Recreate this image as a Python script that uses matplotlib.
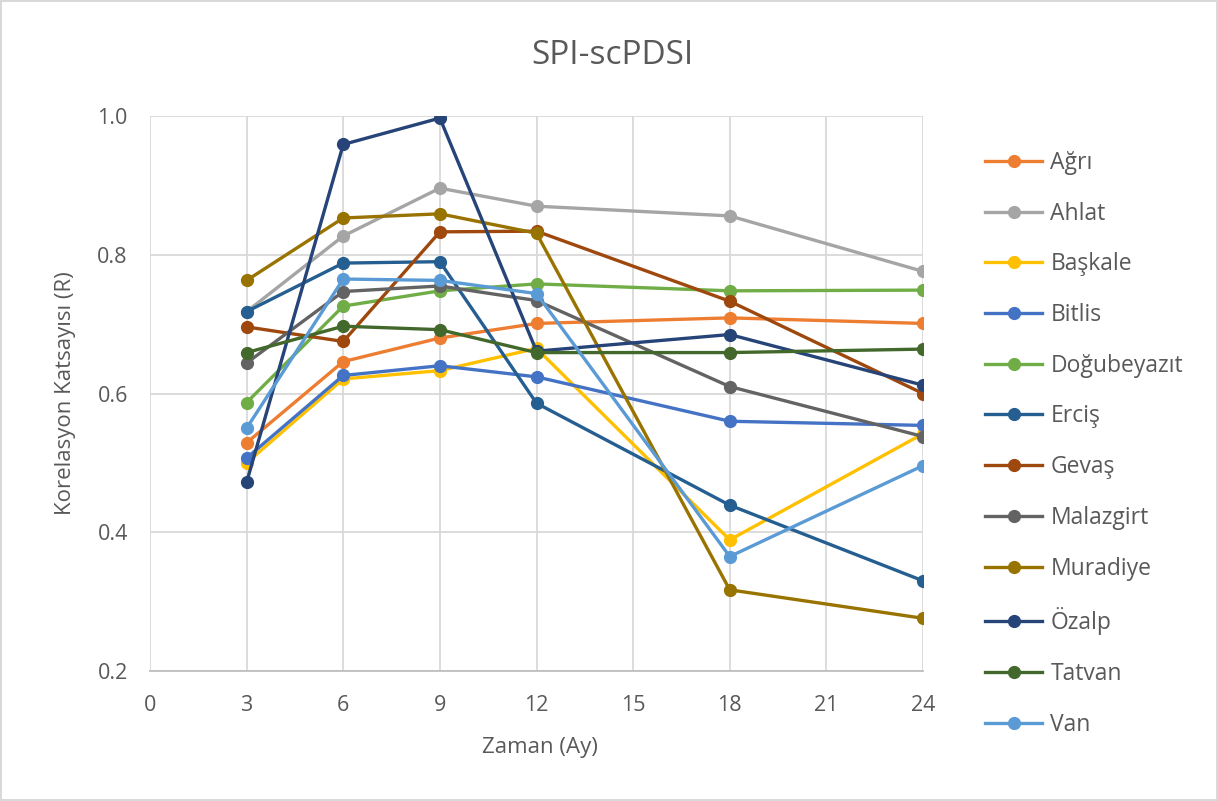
import matplotlib
matplotlib.use("Agg")
import matplotlib.pyplot as plt

plt.rcParams['font.family'] = ['Open Sans', 'DejaVu Sans']

months = [3, 6, 9, 12, 18, 24]
stations = ["Ağrı", "Ahlat", "Başkale", "Bitlis", "Doğubeyazıt", "Erciş",
            "Gevaş", "Malazgirt", "Muradiye", "Özalp", "Tatvan", "Van"]

agri = [0.529, 0.646, 0.680, 0.701, 0.709, 0.701]
ahlat = [0.718, 0.827, 0.896, 0.870, 0.856, 0.776]
baskale = [0.500, 0.621, 0.633, 0.665, 0.389, 0.542]
bitlis = [0.507, 0.626, 0.640, 0.624, 0.560, 0.554]
dogubeyazit = [0.587, 0.726, 0.748, 0.758, 0.748, 0.749]
ercis = [0.718, 0.788, 0.790, 0.586, 0.439, 0.330]
gevas = [0.696, 0.675, 0.833, 0.834, 0.733, 0.600]
malazgirt = [0.644, 0.747, 0.755, 0.734, 0.610, 0.538]
muradiye = [0.763, 0.853, 0.859, 0.831, 0.317, 0.276]
ozalp = [0.472, 0.959, 0.997, 0.661, 0.685, 0.612]
tatvan = [0.659, 0.697, 0.692, 0.659, 0.659, 0.664]
van = [0.550, 0.765, 0.763, 0.744, 0.365, 0.496]

series = [agri, ahlat, baskale, bitlis, dogubeyazit, ercis,
          gevas, malazgirt, muradiye, ozalp, tatvan, van]
colors = ["#ED7D31", "#A5A5A5", "#FFC000", "#4472C4", "#70AD47", "#255E91",
          "#9E480E", "#636363", "#997300", "#264478", "#43682B", "#5B9BD5"]

x_ticks = [0, 3, 6, 9, 12, 15, 18, 21, 24]
y_ticks = [0.2, 0.4, 0.6, 0.8, 1.0]

W, H = 1218, 801
fig = plt.figure(figsize=(W / 100, H / 100), dpi=100)
fig.patch.set_facecolor("white")
fig.patch.set_edgecolor("#D9D9D9")
fig.patch.set_linewidth(1.5)

ax = fig.add_axes([150 / W, 1 - 671 / H, (923 - 150) / W, (671 - 116) / H])

for name, vals, c in zip(stations, series, colors):
    ax.plot(months, vals, color=c, lw=2.4, marker='o', markersize=8.5,
            label=name, zorder=3)

ax.set_xlim(0, 24)
ax.set_ylim(0.2, 1.0)
ax.set_xticks(x_ticks)
ax.set_yticks(y_ticks)
ax.set_yticklabels([f"{v:.1f}" for v in y_ticks])
ax.grid(True, color="#D9D9D9", lw=1.3, zorder=0)
for s in ["top", "right", "left"]:
    ax.spines[s].set_visible(False)
ax.spines["bottom"].set_color("#BFBFBF")
ax.spines["bottom"].set_linewidth(1.3)
ax.tick_params(axis='both', length=0, labelsize=15.5, colors="#595959")
ax.tick_params(axis='x', pad=17)
ax.tick_params(axis='y', pad=16)

fig.text(540 / W, 1 - 748 / H, "Zaman (Ay)", ha='center', va='center',
         fontsize=16, color="#595959")
fig.text(65 / W, 1 - 393 / H, "Korelasyon Katsayısı (R)", ha='center', va='center',
         rotation=90, fontsize=16, color="#595959")
fig.text(612 / W, 1 - 55 / H, "SPI-scPDSI", ha='center', va='center',
         fontsize=24, color="#595959")

leg = ax.legend(loc='upper left', bbox_to_anchor=(985 / W, 1 - 151 / H),
                bbox_transform=fig.transFigure,
                frameon=False, fontsize=16.5, labelcolor="#595959",
                handlelength=2.5, handletextpad=0.35, labelspacing=1.165,
                borderaxespad=0, borderpad=0)

fig.savefig("out.png", dpi=100)
